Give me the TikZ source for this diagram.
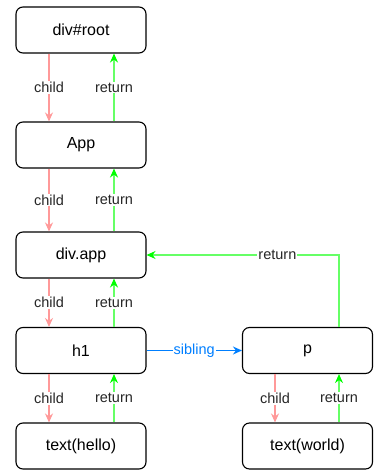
\documentclass[tikz,border=0pt]{standalone}
\usepackage{fontspec}
\setmainfont{Liberation Sans}
\usetikzlibrary{arrows.meta}
\definecolor{childc}{HTML}{FF9999}
\definecolor{retc}{HTML}{66FF66}
\definecolor{retarrow}{HTML}{00FF00}
\definecolor{sibc}{HTML}{007FFF}
\tikzset{
  box/.style={draw=black, line width=1.1pt, rounded corners=7pt, minimum width=130pt, minimum height=46pt, inner sep=0pt, font=\fontsize{16}{18}\selectfont, fill=white},
  childline/.style={draw=childc, line width=1.2pt, -{Stealth[length=9pt,width=8pt,fill=childc]}},
  retline/.style={draw=retc, line width=1.2pt, -{Stealth[length=9pt,width=8pt,fill=retarrow,color=retarrow]}},
  sibline/.style={draw=sibc, line width=1.2pt, -{Stealth[length=9pt,width=8pt]}},
  lab/.style={fill=white, inner sep=1pt, font=\fontsize{14.5}{16}\selectfont, text=black!85},
}
\begin{document}
\begin{tikzpicture}[x=1pt,y=-1pt]
\useasboundingbox (0,0) rectangle (374,470);
\node[box] (root) at (81,30) {div\#root};
\node[box] (app) at (81,145) {App};
\node[box] (divapp) at (81,255) {div.app};
\node[box] (h1) at (81,350.5) {h1};
\node[box] (hello) at (81,446) {text(hello)};
\node[box] (p) at (307.5,350.5) {p};
\node[box] (world) at (307.5,446) {text(world)};

\draw[childline] ([xshift=-32pt]root.south) -- node[lab]{child} ([xshift=-32pt]app.north);
\draw[retline] ([xshift=33pt]app.north) -- node[lab]{return} ([xshift=33pt]root.south);
\draw[childline] ([xshift=-32pt]app.south) -- node[lab]{child} ([xshift=-32pt]divapp.north);
\draw[retline] ([xshift=33pt]divapp.north) -- node[lab]{return} ([xshift=33pt]app.south);
\draw[childline] ([xshift=-32pt]divapp.south) -- node[lab]{child} ([xshift=-32pt]h1.north);
\draw[retline] ([xshift=33pt]h1.north) -- node[lab]{return} ([xshift=33pt]divapp.south);
\draw[childline] ([xshift=-32pt]h1.south) -- node[lab]{child} ([xshift=-32pt]hello.north);
\draw[retline] ([xshift=33pt]hello.north) -- node[lab]{return} ([xshift=33pt]h1.south);
\draw[childline] ([xshift=-32.5pt]p.south) -- node[lab]{child} ([xshift=-32.5pt]world.north);
\draw[retline] ([xshift=31.5pt]world.north) -- node[lab]{return} ([xshift=31.5pt]p.south);
\draw[sibline] (h1.east) -- node[lab, text=sibc]{sibling} (p.west);
\draw[retline] ([xshift=31.5pt]p.north) |- node[lab, pos=0.66]{return} (divapp.east);
\end{tikzpicture}
\end{document}
